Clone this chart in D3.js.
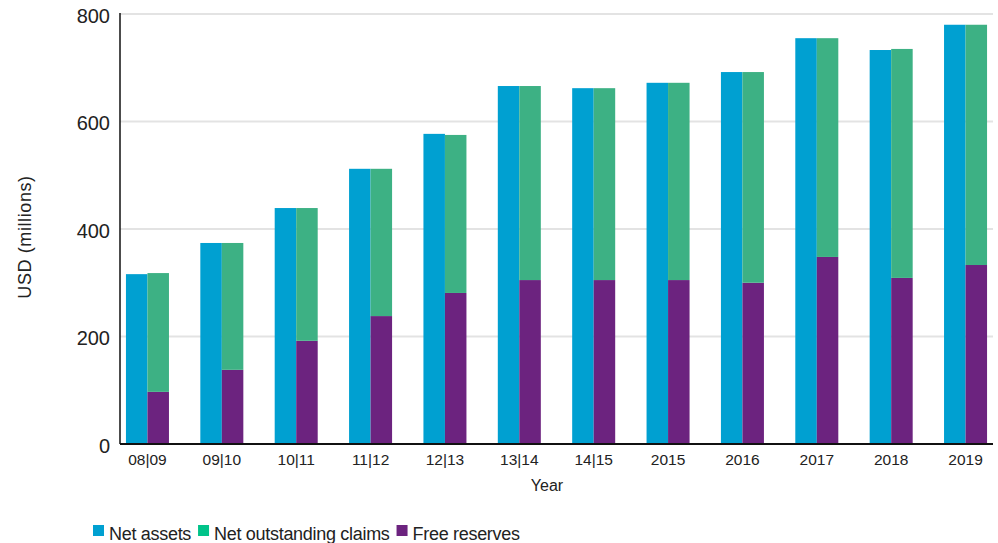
<!DOCTYPE html>
<html>
<head>
<meta charset="utf-8">
<script src="https://cdn.jsdelivr.net/npm/d3@7"></script>
<style>
  body { margin: 0; background: #fff; }
  text { font-family: "Liberation Sans", Arial, sans-serif; fill: #222; }
</style>
</head>
<body>
<div id="chart"></div>
<script>
// data
let years = ["08|09", "09|10", "10|11", "11|12", "12|13", "13|14", "14|15", "2015", "2016", "2017", "2018", "2019"];
let netAssets = [316, 374, 439, 512, 577, 666, 662, 672, 692, 755, 733, 780];
let freeReserves = [97, 138, 192, 238, 281, 305, 305, 305, 300, 348, 309, 333];
let netOutstanding = [221, 236, 247, 274, 294, 361, 357, 367, 392, 407, 426, 447];
let yTicks = [0, 200, 400, 600, 800];
let legendItems = ["Net assets", "Net outstanding claims", "Free reserves"];

let width = 998, height = 543;
let colors = {assets: "#00a0d1", claims: "#3db184", reserves: "#6c237f"};
let legendColors = ["#00a0d1", "#00c389", "#6c237f"];

let svg = d3.select("#chart").append("svg")
    .attr("width", width)
    .attr("height", height);

let x = d3.scaleBand().domain(years).range([120, 993])
    .paddingInner(0.4217).paddingOuter(0.08);
let sub = d3.scaleBand().domain(["assets", "stack"]).range([0, x.bandwidth()]);
let y = d3.scaleLinear().domain([0, 800]).range([444, 14]);

// grid
svg.append("g").selectAll("line")
    .data(yTicks.filter(d => d > 0))
    .enter().append("line")
    .attr("x1", 120).attr("x2", 993)
    .attr("y1", d => y(d)).attr("y2", d => y(d))
    .attr("stroke", "#e3e3e3").attr("stroke-width", 2);

// bars
let groups = svg.append("g").selectAll("g")
    .data(years)
    .enter().append("g")
    .attr("transform", d => "translate(" + x(d) + ",0)");

groups.append("rect")
    .attr("x", sub("assets"))
    .attr("width", sub.bandwidth())
    .attr("y", (d, i) => y(netAssets[i]))
    .attr("height", (d, i) => y(0) - y(netAssets[i]))
    .attr("fill", colors.assets);

groups.append("rect")
    .attr("x", sub("stack"))
    .attr("width", sub.bandwidth())
    .attr("y", (d, i) => y(freeReserves[i]))
    .attr("height", (d, i) => y(0) - y(freeReserves[i]))
    .attr("fill", colors.reserves);

groups.append("rect")
    .attr("x", sub("stack"))
    .attr("width", sub.bandwidth())
    .attr("y", (d, i) => y(freeReserves[i] + netOutstanding[i]))
    .attr("height", (d, i) => y(freeReserves[i]) - y(freeReserves[i] + netOutstanding[i]))
    .attr("fill", colors.claims);

// axes
let xAxis = svg.append("g")
    .attr("transform", "translate(0,444)")
    .call(d3.axisBottom(x).tickSize(0).tickPadding(10));
xAxis.select(".domain").attr("stroke", "#111").attr("stroke-width", 2)
    .attr("d", "M120,0H993");
xAxis.selectAll("text").style("font-size", "15.5px").attr("fill", "#222");

let yAxis = svg.append("g")
    .attr("transform", "translate(120,0)")
    .call(d3.axisLeft(y).tickValues(yTicks).tickSize(0).tickPadding(10));
yAxis.select(".domain").attr("stroke", "#111").attr("stroke-width", 1.5)
    .attr("d", "M0,444V13");
yAxis.selectAll("text").style("font-size", "20px").attr("fill", "#222").attr("dy", "0.4em");

// axis titles
svg.append("text")
    .attr("transform", "translate(31,237) rotate(-90)")
    .attr("text-anchor", "middle")
    .style("font-size", "18px")
    .style("letter-spacing", "0.6px")
    .text("USD (millions)");

svg.append("text")
    .attr("x", 547).attr("y", 491)
    .attr("text-anchor", "middle")
    .style("font-size", "16px")
    .text("Year");

// legend
let lx = 93;
legendItems.forEach((name, i) => {
    svg.append("rect")
        .attr("x", lx).attr("y", 525)
        .attr("width", 11).attr("height", 11)
        .attr("fill", legendColors[i]);
    let t = svg.append("text")
        .attr("x", lx + 16).attr("y", 540)
        .style("font-size", "18px")
        .style("letter-spacing", "-0.3px")
        .text(name);
    lx += 16 + t.node().getComputedTextLength() + 7;
});
</script>
</body>
</html>
